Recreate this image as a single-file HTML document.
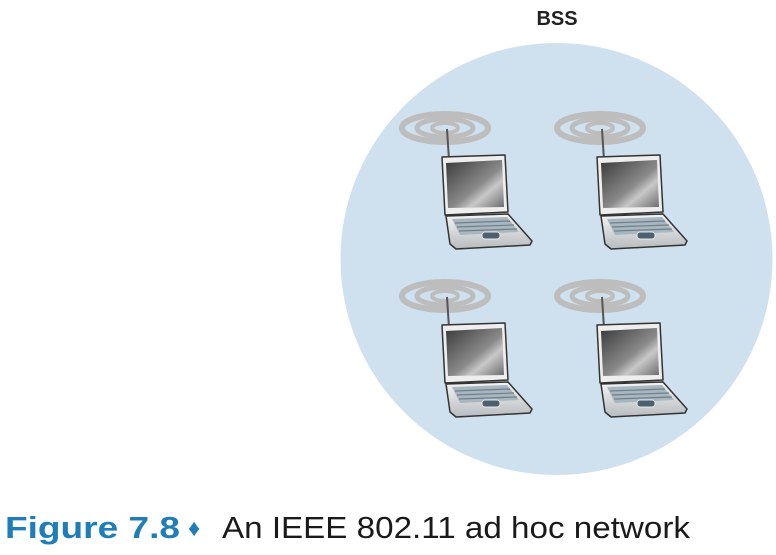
<!DOCTYPE html>
<html><head><meta charset="utf-8"><style>
html,body{margin:0;padding:0;background:#fff;width:776px;height:555px;overflow:hidden}
</style></head><body>
<svg width="776" height="555" viewBox="0 0 776 555" xmlns="http://www.w3.org/2000/svg">
<defs>
<linearGradient id="scr" x1="0" y1="0" x2="1" y2="1">
<stop offset="0" stop-color="#3a3a3a"/><stop offset="0.55" stop-color="#8a8a8a"/><stop offset="0.7" stop-color="#c8c8c8"/><stop offset="1" stop-color="#6a6a6a"/>
</linearGradient>
<linearGradient id="base" x1="0" y1="0" x2="0" y2="1">
<stop offset="0" stop-color="#f4f4f4"/><stop offset="1" stop-color="#b8bcc0"/>
</linearGradient>
<g id="lap">
<ellipse cx="45" cy="18" rx="43" ry="14" fill="none" stroke="#bdbdbd" stroke-width="6"/>
<ellipse cx="45" cy="18" rx="28" ry="9" fill="none" stroke="#bdbdbd" stroke-width="5"/>
<ellipse cx="45" cy="18" rx="13" ry="5" fill="none" stroke="#bdbdbd" stroke-width="4"/>
<line x1="47" y1="19" x2="49" y2="50" stroke="#555" stroke-width="2"/>
<polygon points="42,47 105,45 108,102 45,105" fill="#eeeeee" stroke="#333" stroke-width="1.5" stroke-linejoin="round"/>
<polygon points="46,53 102,50 104,97 48,98" fill="url(#scr)"/>
<polygon points="46,106 108,104 132,131 130,135 56,139 50,134" fill="url(#base)" stroke="#333" stroke-width="1.5" stroke-linejoin="round"/>
<polygon points="52,109 107,107 119,122 60,125" fill="#a8b6c0"/>
<line x1="55" y1="113" x2="110" y2="111" stroke="#6f7f8a" stroke-width="1.2"/>
<line x1="57" y1="117" x2="114" y2="115" stroke="#6f7f8a" stroke-width="1.2"/>
<line x1="59" y1="121" x2="117" y2="119" stroke="#6f7f8a" stroke-width="1.2"/>
<rect x="82" y="122" width="18" height="7" rx="3" fill="#4d6070" stroke="#e8e8e8" stroke-width="1"/>
</g>
</defs>
<text x="557" y="25" text-anchor="middle" font-family="Liberation Sans, sans-serif" font-weight="bold" font-size="20" fill="#222">BSS</text>
<circle cx="556.5" cy="259" r="216" fill="#cfe0ef"/>
<use href="#lap" x="400" y="110"/>
<use href="#lap" x="555" y="110"/>
<use href="#lap" x="400" y="278"/>
<use href="#lap" x="555" y="278"/>
<text x="5" y="538" font-family="Liberation Sans, sans-serif" font-size="31" font-weight="bold" fill="#1f7db8" textLength="175" lengthAdjust="spacingAndGlyphs">Figure 7.8</text>
<text x="188" y="536" font-family="Liberation Sans, sans-serif" font-size="24" fill="#1f7db8">♦</text>
<text x="222" y="538" font-family="Liberation Sans, sans-serif" font-size="31" fill="#1a1a1a" textLength="468" lengthAdjust="spacingAndGlyphs">An IEEE 802.11 ad hoc network</text>
</svg>
</body></html>
